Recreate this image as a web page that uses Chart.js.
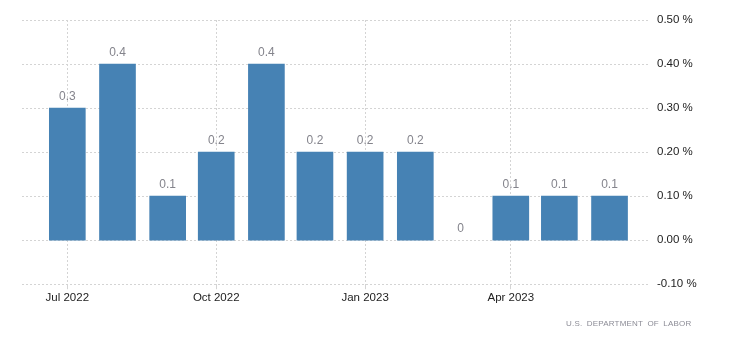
<!DOCTYPE html>
<html>
<head>
<meta charset="utf-8">
<script src="https://cdn.jsdelivr.net/npm/chart.js@4.4.1/dist/chart.umd.min.js"></script>
<style>
  html, body { margin: 0; padding: 0; background: #fff; }
  #wrap { position: relative; width: 730px; height: 351px; }
  #source {
    position: absolute; left: 566px; top: 319px;
    font: 8px "Liberation Sans", Arial, sans-serif;
    letter-spacing: 0.2px; word-spacing: 2px; color: #8c8c96;
  }
</style>
</head>
<body>
<div id="wrap">
  <canvas id="myChart" width="730" height="351"></canvas>
  <div id="source">U.S. DEPARTMENT OF LABOR</div>
</div>
<script>
let months = ['2022-07', '2022-08', '2022-09', '2022-10', '2022-11', '2022-12',
              '2023-01', '2023-02', '2023-03', '2023-04', '2023-05', '2023-06'];
let values = [0.3, 0.4, 0.1, 0.2, 0.4, 0.2, 0.2, 0.2, 0, 0.1, 0.1, 0.1];
let tickMonths = ['2022-07', '2022-10', '2023-01', '2023-04'];
let tickLabels = ['Jul 2022', 'Oct 2022', 'Jan 2023', 'Apr 2023'];

// month string -> day number, so the x axis spaces months like a time axis
function toDay(m, extra) {
  let p = m.split('-');
  return Date.UTC(+p[0], +p[1] - 1, 1) / 86400000 + (extra || 0);
}
let tickDays = tickMonths.map(m => toDay(m));

let fontFam = '"Liberation Sans", Arial, sans-serif';

// draws the value over each bar
let valueLabels = {
  id: 'valueLabels',
  afterDatasetsDraw(chart) {
    let ctx = chart.ctx;
    let meta = chart.getDatasetMeta(0);
    ctx.save();
    ctx.font = '12px ' + fontFam;
    ctx.fillStyle = '#84848c';
    ctx.textAlign = 'center';
    ctx.textBaseline = 'alphabetic';
    meta.data.forEach((bar, i) => {
      ctx.fillText(String(values[i]), bar.x, bar.y - 8);
    });
    ctx.restore();
  }
};

let ctx = document.getElementById('myChart').getContext('2d');
let myChart = new Chart(ctx, {
  type: 'bar',
  data: {
    datasets: [{
      data: months.map((m, i) => ({ x: toDay(m), y: values[i] })),
      // a zero bar leaves nothing visible
      backgroundColor: (c) => (c.raw && c.raw.y === 0 ? 'rgba(0,0,0,0)' : '#4682b4'),
      barThickness: 36
    }]
  },
  options: {
    responsive: false,
    animation: false,
    layout: { padding: { top: 20, left: 22, right: 0, bottom: 44 } },
    plugins: {
      legend: { display: false },
      tooltip: { enabled: false }
    },
    scales: {
      x: {
        type: 'linear',
        offset: false,
        min: toDay('2022-07', -28),
        max: toDay('2023-06', 25),
        afterBuildTicks: (scale) => {
          scale.ticks = tickDays.map(d => ({ value: d }));
        },
        grid: {
          offset: false,
          color: '#d4d4d4',
          tickColor: '#d4d4d4',
          tickLength: 5,
          drawTicks: true
        },
        border: { display: false, dash: [2, 2] },
        ticks: {
          autoSkip: false,
          maxRotation: 0,
          padding: 2,
          color: '#222',
          font: { family: fontFam, size: 11.5 },
          callback: (v) => tickLabels[tickDays.indexOf(v)]
        }
      },
      y: {
        position: 'right',
        min: -0.1,
        max: 0.5,
        afterFit: (scale) => { scale.width = 80; },
        grid: { color: '#d4d4d4', drawTicks: false },
        border: { display: false, dash: [2, 2] },
        ticks: {
          stepSize: 0.1,
          padding: 7,
          color: '#222',
          font: { family: fontFam, size: 11.5 },
          callback: (v) => (Math.abs(v) < 1e-9 ? 0 : v).toFixed(2) + ' %'
        }
      }
    }
  },
  plugins: [valueLabels]
});
</script>
</body>
</html>
